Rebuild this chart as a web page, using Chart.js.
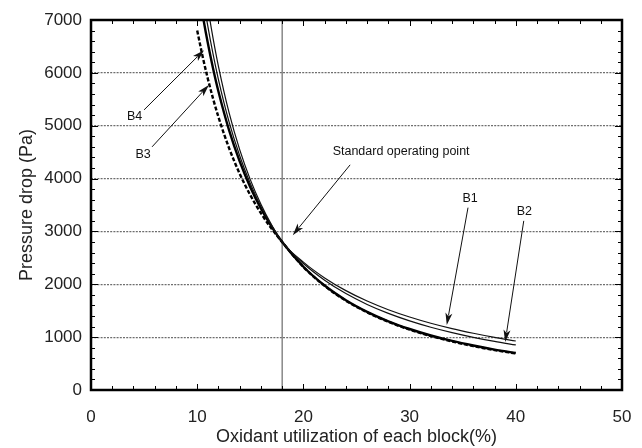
<!DOCTYPE html>
<html>
<head>
<meta charset="utf-8">
<script src="https://cdn.jsdelivr.net/npm/chart.js@4.4.1/dist/chart.umd.min.js"></script>
<style>
  html, body { margin: 0; padding: 0; background: #fff; }
</style>
</head>
<body>
<canvas id="chart" width="642" height="448"></canvas>
<script>
// oxidant utilization (%) sampled along each curve
const utilization = [10, 10.5, 11, 11.5, 12, 13, 14, 15, 16, 17, 18, 20, 22, 24, 26, 28, 30, 32, 34, 36, 38, 40];

// pressure drop (Pa) per block
const dropB1 = [8705, 7924, 7244, 6648, 6124, 5247, 4547, 3980, 3515, 3127, 2800, 2420, 2121, 1880, 1683, 1519, 1381, 1263, 1161, 1073, 995, 927];
const dropB2 = [8195, 7497, 6885, 6348, 5874, 5073, 4432, 3907, 3472, 3109, 2800, 2393, 2077, 1824, 1619, 1450, 1308, 1188, 1086, 997, 920, 852];
const dropB3 = [7741, 7114, 6564, 6078, 5647, 4916, 4325, 3838, 3433, 3091, 2800, 2332, 1976, 1699, 1479, 1300, 1154, 1031, 928, 841, 765, 700];
const dropB4 = [6802, 6319, 5890, 5508, 5165, 4577, 4092, 3687, 3345, 3053, 2800, 2327, 1969, 1690, 1469, 1290, 1143, 1021, 918, 830, 755, 690];

const xTicks = [0, 10, 20, 30, 40, 50];
const yTicks = [0, 1000, 2000, 3000, 4000, 5000, 6000, 7000];
const operatingPoint = 18;

// callouts: text anchor, arrow start, arrow tip (data units)
const notes = [
  { text: "B4", at: [4.1, 5170], from: [5.0, 5300], to: [10.64, 6430] },
  { text: "B3", at: [4.9, 4450], from: [5.75, 4600], to: [11.1, 5770] },
  { text: "Standard operating point", at: [29.2, 4510], from: [24.4, 4260], to: [19.0, 2930] },
  { text: "B1", at: [35.7, 3630], from: [35.5, 3450], to: [33.5, 1230] },
  { text: "B2", at: [40.8, 3370], from: [40.75, 3200], to: [39.0, 910] },
];

const FONT = "'Liberation Sans', Arial, Helvetica, sans-serif";
Chart.defaults.font.family = FONT;
Chart.defaults.color = "#222";

const toPoints = (ys) => utilization.map((x, i) => ({ x, y: ys[i] }));

// helper: line with filled arrow head at the tip
const drawArrow = (ctx, x1, y1, x2, y2) => {
  const ang = Math.atan2(y2 - y1, x2 - x1);
  const len = 12, half = 3.5;
  ctx.beginPath();
  ctx.moveTo(x1, y1);
  ctx.lineTo(x2 - Math.cos(ang) * len * 0.8, y2 - Math.sin(ang) * len * 0.8);
  ctx.stroke();
  ctx.beginPath();
  ctx.moveTo(x2, y2);
  ctx.lineTo(x2 - Math.cos(ang) * len - Math.sin(ang) * half, y2 - Math.sin(ang) * len + Math.cos(ang) * half);
  ctx.lineTo(x2 - Math.cos(ang) * len * 0.75, y2 - Math.sin(ang) * len * 0.75);
  ctx.lineTo(x2 - Math.cos(ang) * len + Math.sin(ang) * half, y2 - Math.sin(ang) * len - Math.cos(ang) * half);
  ctx.closePath();
  ctx.fill();
};

// vertical marker, box frame and inward tick marks
const framePlugin = {
  id: "frame",
  beforeDatasetsDraw(chart) {
    const { ctx, chartArea: a, scales: { x } } = chart;
    const px = x.getPixelForValue(operatingPoint);
    ctx.save();
    ctx.strokeStyle = "#6a6a6a";
    ctx.lineWidth = 1.2;
    ctx.beginPath();
    ctx.moveTo(px, a.top);
    ctx.lineTo(px, a.bottom);
    ctx.stroke();
    ctx.restore();
  },
  afterDatasetsDraw(chart) {
    const { ctx, chartArea: a, scales: { x, y } } = chart;
    ctx.save();
    ctx.strokeStyle = "#000";
    ctx.lineWidth = 1;
    ctx.beginPath();
    for (let v = 2; v < 50; v += 2) {
      const px = Math.round(x.getPixelForValue(v)) + 0.5;
      const len = v % 10 === 0 ? 6 : 4;
      ctx.moveTo(px, a.bottom); ctx.lineTo(px, a.bottom - len);
      ctx.moveTo(px, a.top); ctx.lineTo(px, a.top + len);
    }
    for (let v = 200; v < 7000; v += 200) {
      const py = Math.round(y.getPixelForValue(v)) + 0.5;
      const len = v % 1000 === 0 ? 7 : 4;
      ctx.moveTo(a.left, py); ctx.lineTo(a.left + len, py);
      ctx.moveTo(a.right, py); ctx.lineTo(a.right - len, py);
    }
    ctx.stroke();
    ctx.lineWidth = 2.5;
    ctx.strokeRect(a.left, a.top, a.right - a.left, a.bottom - a.top);
    ctx.restore();
  },
};

const notePlugin = {
  id: "notes",
  afterDraw(chart) {
    const { ctx, scales: { x, y } } = chart;
    ctx.save();
    ctx.strokeStyle = "#111";
    ctx.fillStyle = "#111";
    ctx.lineWidth = 1;
    ctx.font = "12.5px " + FONT;
    ctx.textAlign = "center";
    ctx.textBaseline = "middle";
    notes.forEach((n) => {
      ctx.fillText(n.text, x.getPixelForValue(n.at[0]), y.getPixelForValue(n.at[1]));
      drawArrow(ctx,
        x.getPixelForValue(n.from[0]), y.getPixelForValue(n.from[1]),
        x.getPixelForValue(n.to[0]), y.getPixelForValue(n.to[1]));
    });
    ctx.restore();
  },
};

new Chart(document.getElementById("chart"), {
  type: "line",
  data: {
    datasets: [
      { label: "B1", data: toPoints(dropB1), borderColor: "#111", borderWidth: 1.2 },
      { label: "B2", data: toPoints(dropB2), borderColor: "#111", borderWidth: 1.2 },
      { label: "B3", data: toPoints(dropB3), borderColor: "#000", borderWidth: 2.4 },
      { label: "B4", data: toPoints(dropB4), borderColor: "#000", borderWidth: 2.4, borderDash: [4, 2] },
    ],
  },
  options: {
    responsive: false,
    animation: false,
    layout: { padding: { top: 20, right: 20, left: 0, bottom: 0 } },
    elements: { point: { radius: 0 }, line: { cubicInterpolationMode: "monotone", fill: false } },
    datasets: { line: { clip: 0 } },
    plugins: { legend: { display: false }, tooltip: { enabled: false } },
    scales: {
      x: {
        type: "linear",
        min: 0,
        max: 50,
        afterFit: (s) => { s.height = 58; },
        afterBuildTicks: (s) => { s.ticks = xTicks.map((v) => ({ value: v })); },
        ticks: { padding: 9, font: { size: 17 }, color: "#222", maxRotation: 0, callback: (v) => String(v) },
        grid: { display: false },
        border: { display: false },
        title: { display: true, text: "Oxidant utilization of each block(%)", font: { size: 18 }, color: "#222", padding: { top: 0, bottom: 0 } },
      },
      y: {
        min: 0,
        max: 7000,
        afterFit: (s) => { s.width = 91; },
        afterBuildTicks: (s) => { s.ticks = yTicks.map((v) => ({ value: v })); },
        ticks: { padding: 9, font: { size: 17 }, color: "#222", callback: (v) => String(v) },
        grid: {
          drawTicks: false,
          color: (c) => (c.tick && (c.tick.value === 0 || c.tick.value === 7000) ? "rgba(0,0,0,0)" : "#6e6e6e"),
          lineWidth: 1.2,
        },
        border: { display: false, dash: [2, 1.2] },
        title: { display: true, text: "Pressure drop (Pa)", font: { size: 18 }, color: "#222", padding: { top: 16, bottom: 0 } },
      },
    },
  },
  plugins: [framePlugin, notePlugin],
});
</script>
</body>
</html>
